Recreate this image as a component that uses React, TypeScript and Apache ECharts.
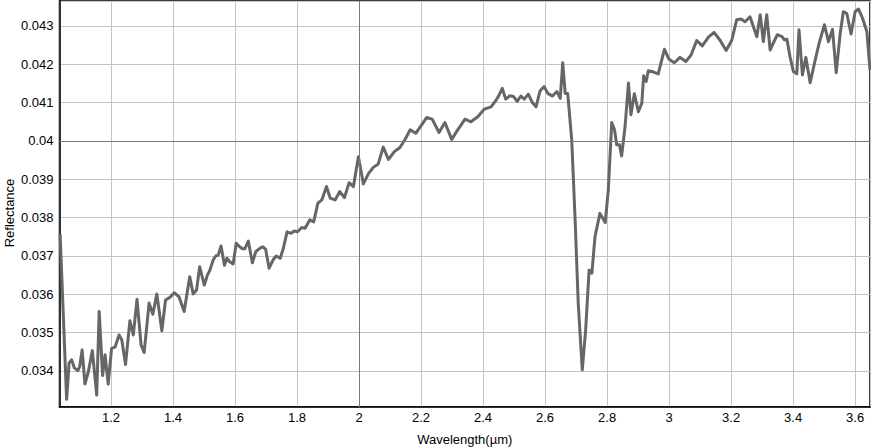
import React, { useEffect, useRef } from "react";
import * as echarts from "echarts";

const wavelength: number[] = [
  1.036, 1.057, 1.065, 1.073, 1.082, 1.093, 1.099, 1.107, 1.116, 1.127,
  1.14, 1.154, 1.162, 1.173, 1.181, 1.191, 1.202, 1.213, 1.226, 1.235,
  1.247, 1.261, 1.272, 1.284, 1.297, 1.307, 1.323, 1.335, 1.348, 1.364,
  1.376, 1.39, 1.404, 1.419, 1.436, 1.454, 1.465, 1.476, 1.486, 1.501,
  1.511, 1.519, 1.53, 1.538, 1.546, 1.555, 1.566, 1.574, 1.583, 1.594,
  1.604, 1.615, 1.624, 1.632, 1.643, 1.656, 1.667, 1.68, 1.69, 1.699,
  1.71, 1.723, 1.733, 1.746, 1.756, 1.768, 1.781, 1.791, 1.802, 1.815,
  1.826, 1.841, 1.854, 1.867, 1.88, 1.895, 1.907, 1.923, 1.938, 1.953,
  1.968, 1.982, 1.998, 2.014, 2.03, 2.046, 2.062, 2.078, 2.095, 2.114,
  2.132, 2.148, 2.165, 2.183, 2.202, 2.218, 2.236, 2.258, 2.277, 2.299,
  2.32, 2.342, 2.361, 2.383, 2.404, 2.426, 2.441, 2.452, 2.462, 2.473,
  2.487, 2.498, 2.51, 2.522, 2.533, 2.546, 2.559, 2.571, 2.584, 2.597,
  2.609, 2.624, 2.638, 2.649, 2.657, 2.665, 2.673, 2.686, 2.697, 2.707,
  2.72, 2.731, 2.742, 2.751, 2.761, 2.777, 2.794, 2.804, 2.815, 2.824,
  2.831, 2.84, 2.847, 2.858, 2.869, 2.877, 2.888, 2.901, 2.912, 2.918,
  2.926, 2.933, 2.946, 2.965, 2.985, 3.0, 3.017, 3.035, 3.054, 3.071,
  3.089, 3.107, 3.127, 3.145, 3.165, 3.184, 3.202, 3.218, 3.232, 3.245,
  3.261, 3.283, 3.294, 3.304, 3.315, 3.326, 3.336, 3.349, 3.364, 3.372,
  3.38, 3.39, 3.401, 3.412, 3.419, 3.43, 3.441, 3.455, 3.469, 3.484,
  3.501, 3.514, 3.527, 3.539, 3.552, 3.562, 3.573, 3.587, 3.6, 3.611,
  3.624, 3.638, 3.648,
];

const reflectance: number[] = [
  0.03757, 0.03326, 0.03421, 0.03429, 0.03408, 0.03401, 0.03411, 0.03455, 0.03366, 0.03398,
  0.03453, 0.03337, 0.03555, 0.03388, 0.03442, 0.03366, 0.03459, 0.03462, 0.03494, 0.03481,
  0.03417, 0.03531, 0.03494, 0.03587, 0.03468, 0.03448, 0.03577, 0.03548, 0.03601, 0.03505,
  0.03585, 0.03592, 0.03604, 0.03594, 0.03555, 0.03646, 0.03601, 0.03611, 0.03672, 0.03624,
  0.0365, 0.03663, 0.0369, 0.037, 0.03702, 0.03726, 0.03676, 0.03694, 0.03685, 0.03679,
  0.03733, 0.03724, 0.03719, 0.03719, 0.03739, 0.03682, 0.03711, 0.0372, 0.03724, 0.03717,
  0.03668, 0.0369, 0.037, 0.03694, 0.0372, 0.03763, 0.03759, 0.03765, 0.03763, 0.03774,
  0.03772, 0.03794, 0.03789, 0.03837, 0.03846, 0.03881, 0.03851, 0.03846, 0.03868, 0.03852,
  0.03891, 0.03881, 0.03959, 0.03888, 0.03914, 0.03931, 0.0394, 0.03984, 0.03952, 0.03972,
  0.03983, 0.04003, 0.04029, 0.0402, 0.04042, 0.04061, 0.04057, 0.04022, 0.04048, 0.04004,
  0.04031, 0.04057, 0.0405, 0.04063, 0.04083, 0.04089, 0.04105, 0.0412, 0.04137, 0.04109,
  0.04118, 0.04116, 0.04103, 0.04117, 0.04109, 0.04122, 0.041, 0.04089, 0.04131, 0.04142,
  0.04124, 0.04117, 0.04129, 0.04111, 0.04204, 0.04124, 0.04124, 0.04003, 0.03794, 0.03577,
  0.03403, 0.03507, 0.03663, 0.03655, 0.0375, 0.03811, 0.03787, 0.03872, 0.04048, 0.04029,
  0.0399, 0.0399, 0.03961, 0.04037, 0.04151, 0.04068, 0.04123, 0.04076, 0.04098, 0.0417,
  0.04155, 0.04183, 0.04181, 0.04175, 0.04239, 0.04213, 0.04204, 0.04218, 0.04207, 0.04224,
  0.04262, 0.04248, 0.04271, 0.04283, 0.04262, 0.04236, 0.04262, 0.04316, 0.04318, 0.04311,
  0.04324, 0.04272, 0.04329, 0.04259, 0.04329, 0.04237, 0.04255, 0.04277, 0.04272, 0.04264,
  0.04265, 0.0422, 0.04181, 0.04175, 0.0429, 0.04172, 0.04218, 0.04152, 0.04203, 0.04255,
  0.04303, 0.04259, 0.04291, 0.04178, 0.04281, 0.04337, 0.04333, 0.04279, 0.04337, 0.04344,
  0.0432, 0.04285, 0.04185,
];

const xRange: number[] = [1.034, 3.648];
const yRange: number[] = [0.03306, 0.04365];
const emphasisX: number[] = [2];
const emphasisY: number[] = [0.04];

const FONT = "'Liberation Sans', Arial, Helvetica, sans-serif";

function fmt(v: number): string {
  return String(Number(v.toFixed(6)));
}

export default function App() {
  const ref = useRef<HTMLDivElement | null>(null);

  useEffect(() => {
    document.body.style.margin = "0";
    if (!ref.current) return;
    const chart = echarts.init(ref.current, null, { renderer: "svg" });
    const data = wavelength.map((x, i) => [x, reflectance[i]]);
    const option: any = {
      animation: false,
      backgroundColor: "#ffffff",
      grid: {
        left: 59.5,
        right: 1,
        top: 1,
        bottom: 41,
        containLabel: false,
        outerBoundsMode: "none",
        show: true,
        borderColor: "#000",
        borderWidth: 1.5,
        backgroundColor: "transparent",
      },
      xAxis: {
        type: "value",
        min: xRange[0],
        max: xRange[1],
        splitNumber: 13,
        name: "Wavelength(µm)",
        nameLocation: "middle",
        nameGap: 26,
        nameMoveOverlap: false,
        nameTextStyle: { color: "#000", fontSize: 13, fontFamily: FONT },
        axisLine: { show: true, lineStyle: { color: "#000", width: 1.5 } },
        axisTick: { show: false },
        axisLabel: {
          color: "#000",
          fontSize: 13,
          fontFamily: FONT,
          margin: 4,
          showMinLabel: false,
          showMaxLabel: false,
          formatter: (v: number) => fmt(v),
        },
        splitLine: { show: true, lineStyle: { color: "#c4c4c4", width: 1 } },
      },
      yAxis: {
        type: "value",
        min: yRange[0],
        max: yRange[1],
        splitNumber: 10,
        name: "Reflectance",
        nameLocation: "middle",
        nameRotate: 90,
        nameGap: 44,
        nameMoveOverlap: false,
        nameTextStyle: {
          color: "#000",
          fontSize: 13,
          fontFamily: FONT,
          padding: [0, 18, 0, 0],
        },
        axisLine: { show: true, lineStyle: { color: "#000", width: 1.5 } },
        axisTick: { show: false },
        axisLabel: {
          color: "#000",
          fontSize: 13,
          fontFamily: FONT,
          margin: 6,
          showMinLabel: false,
          showMaxLabel: false,
          formatter: (v: number) => fmt(v),
        },
        splitLine: { show: true, lineStyle: { color: "#c4c4c4", width: 1 } },
      },
      series: [
        {
          type: "line",
          data: [],
          z: 1,
          silent: true,
          markLine: {
            silent: true,
            symbol: "none",
            label: { show: false },
            lineStyle: { color: "#7a7a7a", width: 1, type: "solid" },
            data: [
              ...emphasisX.map((v) => ({ xAxis: v })),
              ...emphasisY.map((v) => ({ yAxis: v })),
            ],
          },
        },
        {
          type: "line",
          data,
          z: 3,
          showSymbol: false,
          symbol: "none",
          lineStyle: { color: "#666666", width: 3, join: "round" },
        },
      ],
    };
    chart.setOption(option);
    return () => {
      chart.dispose();
    };
  }, []);

  return <div ref={ref} style={{ width: 871, height: 448 }} />;
}
